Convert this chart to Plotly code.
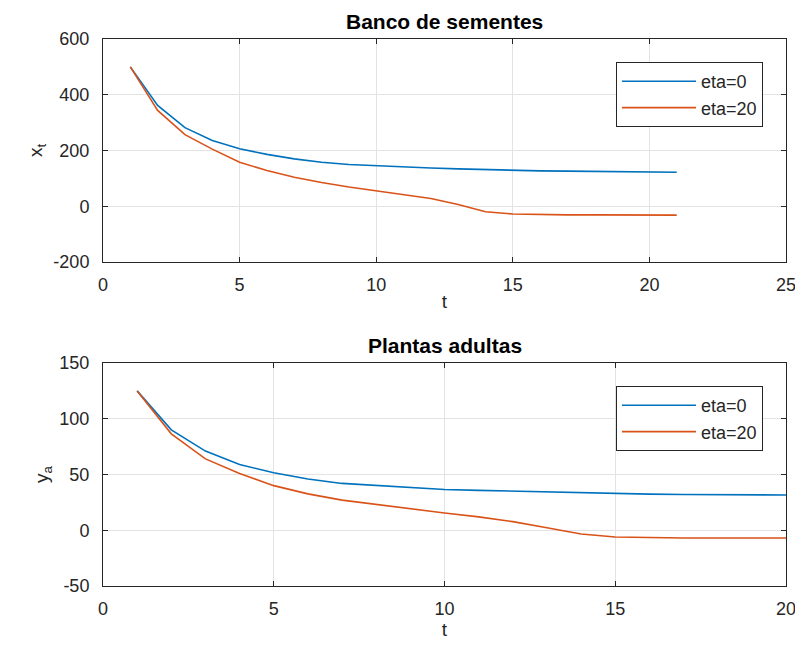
import plotly.graph_objects as go

t = list(range(1, 22))
# Banco de sementes (x_t)
x_eta0 = [500, 362, 282, 236, 206, 186, 170, 158, 150, 145, 140, 137, 134, 131, 129, 127, 126, 125, 124, 123, 122]
x_eta20 = [500, 344, 257, 205, 158, 128, 104, 85, 69, 55, 42, 28, 6, -20, -28, -30, -31, -31, -32, -32, -32]
# Plantas adultas (y_a)
y_eta0 = [125, 90, 71, 59, 51.5, 46, 42, 40, 38, 36.6, 35.8, 35, 34.2, 33.5, 32.8, 32.4, 32.1, 31.9, 31.7, 31.6, 31.5]
y_eta20 = [125, 86.5, 64, 51, 40, 32.6, 27, 23, 19, 15.5, 12, 7.7, 2.3, -3.4, -6, -6.8, -7, -7, -7, -7, -7]

names = ["eta=0", "eta=20"]
colors = ["#0072BD", "#D95319"]

# tick values / labels
x1_ticks = [0, 5, 10, 15, 20, 25]
x2_ticks = [0, 5, 10, 15, 20]
y1_ticks = [-200, 0, 200, 400, 600]
y2_ticks = [-50, 0, 50, 100, 150]

W, H = 803, 646
OFF = 8                          # page body margin offset
L, R, T, B = 103, 786, 39, 586   # plot-area pixel bounds (reference coordinates)
FW, FH = W - OFF, H - OFF


def px(xp):
    return (xp - L) / (R - L)


def py(yp):
    return (B - yp) / (B - T)


def lab(v):
    return [str(a) for a in v]


fig = go.Figure()
for vals, nm, c in zip([x_eta0, x_eta20], names, colors):
    fig.add_trace(go.Scatter(x=t, y=vals, mode="lines", name=nm, line=dict(color=c, width=1.6),
                             xaxis="x", yaxis="y", legend="legend"))
for vals, nm, c in zip([y_eta0, y_eta20], names, colors):
    fig.add_trace(go.Scatter(x=t, y=vals, mode="lines", name=nm, line=dict(color=c, width=1.6),
                             xaxis="x2", yaxis="y2", legend="legend2"))

FONT = "Liberation Sans, Arial, Helvetica, sans-serif"
TXT = "#262626"
ax_common = dict(showline=True, linecolor=TXT, linewidth=1, mirror="ticks",
                 ticks="inside", ticklen=5, tickcolor=TXT, automargin=False,
                 ticklabeloverflow="allow",
                 showgrid=True, gridcolor="#e3e3e3", gridwidth=1, zeroline=False,
                 tickfont=dict(family=FONT, size=18, color=TXT))

legend_common = dict(xanchor="right", yanchor="top", bordercolor=TXT, borderwidth=1, bgcolor="white",
                     font=dict(family=FONT, size=18, color=TXT), tracegroupgap=0, itemwidth=74,
                     entrywidth=84)

fig.update_layout(
    width=FW, height=FH,
    margin=dict(l=L - OFF, r=FW - (R - OFF), t=T - OFF, b=FH - (B - OFF), autoexpand=False),
    paper_bgcolor="white", plot_bgcolor="white",
    font=dict(family=FONT, size=18, color=TXT),
    xaxis=dict(domain=[0, 1], anchor="y", range=[0, 25], tickvals=x1_ticks, ticktext=lab(x1_ticks),
               ticklabelstandoff=6, title=dict(text="t", standoff=1, font=dict(size=19)), **ax_common),
    yaxis=dict(domain=[py(262), 1], anchor="x", range=[-200, 600], tickvals=y1_ticks, ticktext=lab(y1_ticks),
               ticklabelstandoff=9, title=dict(text="x<sub>t</sub>", standoff=5, font=dict(size=19)),
               **ax_common),
    xaxis2=dict(domain=[0, 1], anchor="y2", range=[0, 20], tickvals=x2_ticks, ticktext=lab(x2_ticks),
                ticklabelstandoff=6, title=dict(text="t", standoff=1, font=dict(size=19)), **ax_common),
    yaxis2=dict(domain=[0, py(363)], anchor="x2", range=[-50, 150], tickvals=y2_ticks, ticktext=lab(y2_ticks),
                ticklabelstandoff=9, title=dict(text="y<sub>a</sub>", standoff=5, font=dict(size=19)),
                **ax_common),
    legend=dict(x=px(763), y=py(62), **legend_common),
    legend2=dict(x=px(763), y=py(386), **legend_common),
    annotations=[
        dict(text="<b>Banco de sementes</b>", x=0.5, y=py(22), xref="paper", yref="paper",
             showarrow=False, font=dict(family=FONT, size=21, color="#000000"),
             xanchor="center", yanchor="middle"),
        dict(text="<b>Plantas adultas</b>", x=0.5, y=py(345), xref="paper", yref="paper",
             showarrow=False, font=dict(family=FONT, size=21, color="#000000"),
             xanchor="center", yanchor="middle"),
    ],
)

fig.write_html("out.html")
